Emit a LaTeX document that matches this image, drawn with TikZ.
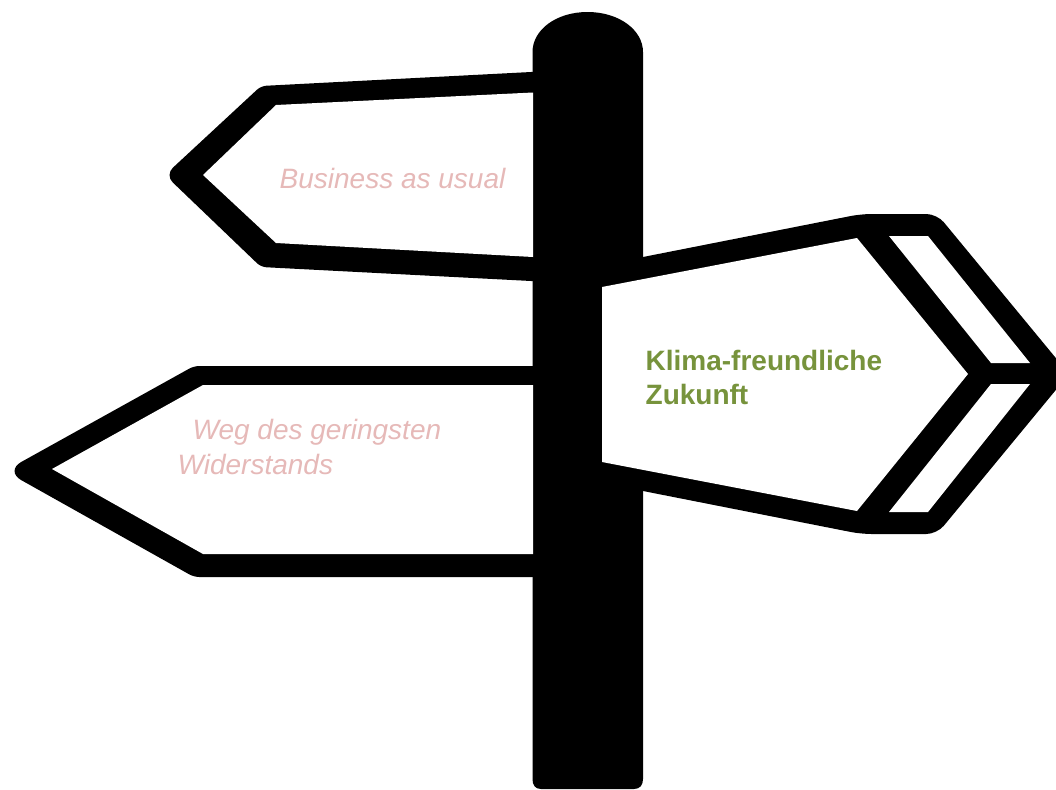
\documentclass[tikz,border=0pt]{standalone}
\usepackage{fontspec}
\setmainfont{Liberation Sans}
\usepackage{tikz}
\definecolor{lightred}{HTML}{E6B9B8}
\definecolor{leafgreen}{HTML}{77933C}
\tikzset{
every picture/.style={
line width=1pt
},
  pale/.style={text=lightred, font=\fontsize{21}{25}\selectfont\itshape, inner sep=0pt, anchor=base west},
  strong/.style={text=leafgreen, font=\fontsize{21}{25}\selectfont\bfseries, inner sep=0pt, anchor=base west}
}
\begin{document}
\begin{tikzpicture}[x=0.75pt, y=-0.75pt]
  \useasboundingbox (0,0) rectangle (1056,789);
  \clip (0,0) rectangle (1056,789);

  % post
  \fill [black] (532.5,52) .. controls (532.5,30) and (556,12) .. (587.5,12)
    .. controls (619,12) and (643,30) .. (643,52)
    -- (643,779) .. controls (643,785) and (640,789) .. (634,789)
    -- (541,789) .. controls (535,789) and (532.5,785) .. (532.5,779) -- cycle;

  % left boards
  \fill [black, rounded corners=4pt] (560,70.5) -- (261,86) [rounded corners=8pt] -- (165,175) [rounded corners=4pt] -- (261,267) -- (560,282.5) -- cycle;
  \fill [white] (533,92.5) -- (276,105) -- (203,175) -- (276,243) -- (533,257) -- cycle;
  \fill [black, rounded corners=4pt] (560,366) -- (194,366) [rounded corners=14pt] -- (5,471) [rounded corners=4pt] -- (194,577) -- (560,577) -- cycle;
  \fill [white] (533,385) -- (203,385) -- (52,469) -- (203,554) -- (533,554) -- cycle;

  % right board
  \fill [black, rounded corners=8pt] (590,268) -- (643,257) -- (861,214) -- (937,214)
    -- (1069,374) -- (937,534) -- (861,534) -- (643,491) -- (590,480) -- cycle;
  \fill [white] (602,287) -- (857,238) -- (968,374) -- (857,511) -- (602,462) -- cycle;
  \fill [white] (889,236) -- (928,236) -- (1030,363) -- (991,363) -- cycle;
  \fill [white] (889,512) -- (928,512) -- (1030,384) -- (991,384) -- cycle;

  \node [pale] (usual) at (279,188) {Business as usual};
  \node [pale] (weg) at (192,439) {Weg des geringsten};
  \node [pale] (wider) at (177,474) {Widerstands};
  \node [strong] (klima) at (645,370) {Klima-freundliche};
  \node [strong] (zukunft) at (645,404) {Zukunft};
\end{tikzpicture}
\end{document}
